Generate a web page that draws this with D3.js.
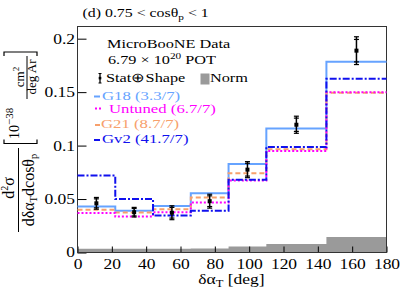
<!DOCTYPE html>
<html><head><meta charset="utf-8">
<script src="https://cdn.jsdelivr.net/npm/d3@7"></script>
<style>
body{margin:0;background:#fff}
svg{display:block}
text{font-family:"Liberation Serif","Times New Roman",serif}
</style>
</head><body>
<svg id="c" width="407" height="295"></svg>
<script>
// ---- data ----
const binEdges = [0, 22, 44, 66, 88, 110, 145, 180];
const dataVals = [0.046, 0.0377, 0.0372, 0.048, 0.0775, 0.1195, 0.1888];
const dataErr = [0.0055, 0.0045, 0.0065, 0.0065, 0.0075, 0.008, 0.013];
const dataStatErr = [0.0042, 0.0035, 0.005, 0.005, 0.006, 0.0062, 0.0105];
const g18Vals = [0.043, 0.039, 0.0436, 0.0555, 0.0829, 0.1159, 0.1785];
const untunedVals = [0.037, 0.0336, 0.0377, 0.0467, 0.0673, 0.095, 0.150];
const g21Vals = [0.040, 0.0374, 0.0405, 0.0514, 0.0742, 0.0965, 0.1495];
const gv2Vals = [0.072, 0.050, 0.0346, 0.039, 0.068, 0.0988, 0.1626];
const normVals = [0.0035, 0.0035, 0.0035, 0.0037, 0.0055, 0.008, 0.0144];
const xTicks = [0, 20, 40, 60, 80, 100, 120, 140, 160, 180];
const yTicks = [0, 0.05, 0.1, 0.15, 0.2];
const yTickLabels = ["0", "0.05", "0.1", "0.15", "0.2"];
const legendLabels = ["G18 (3.3/7)", "Untuned (6.7/7)", "G21 (8.7/7)", "Gv2 (41.7/7)"];
const seriesColors = ["#66a3ff", "#ff00ff", "#f7a06c", "#1010ee"];
const seriesDash = [null, "2,2", "5,3", "7,2,2,2"];

// ---- setup ----
const svg = d3.select("#c");
const SX = 1.25;
const L = 77.5, R = 386.5, T = 26.5, B = 252.5;
const x = d3.scaleLinear().domain([0, 180]).range([L, R]);
const y = d3.scaleLinear().domain([0, 0.2114]).range([B, T]);

function txt(px, py, size, anchor, fill) {
  return svg.append("text")
    .attr("transform", `translate(${px},${py}) scale(${SX},1)`)
    .attr("font-size", size).attr("text-anchor", anchor || "start")
    .attr("fill", fill || "#000");
}
function rtxt(px, py, size, anchor) {
  return svg.append("text")
    .attr("transform", `translate(${px},${py}) rotate(-90)`)
    .attr("font-size", size).attr("text-anchor", anchor || "middle")
    .attr("fill", "#000");
}
function stepPts(vals) {
  const p = vals.map((v, i) => [binEdges[i], v]);
  p.push([binEdges[binEdges.length - 1], vals[vals.length - 1]]);
  return p;
}

// ---- norm band ----
const area = d3.area().curve(d3.curveStepAfter)
  .x(d => x(d[0])).y0(y(0)).y1(d => y(d[1]));
svg.append("path").datum(stepPts(normVals)).attr("d", area).attr("fill", "#9a9a9a");

// ---- axes ----
const xAxis = svg.append("g").attr("transform", `translate(0,${B})`)
  .call(d3.axisBottom(x).tickValues(xTicks).tickSize(-6).tickPadding(7).tickFormat(d3.format("d")));
const yAxis = svg.append("g").attr("transform", `translate(${L},0)`)
  .call(d3.axisLeft(y).tickValues(yTicks).tickSize(-9).tickPadding(2).tickFormat((d, i) => yTickLabels[i]));
[xAxis, yAxis].forEach(a => {
  a.select(".domain").remove();
  a.selectAll("line").attr("stroke", "#000");
  a.selectAll("text").attr("font-size", 14).attr("fill", "#000")
    .attr("font-family", '"Liberation Serif",serif')
    .attr("transform", `scale(${SX},1)`);
});
svg.append("rect").attr("x", L).attr("y", T).attr("width", R - L).attr("height", B - T)
  .attr("fill", "none").attr("stroke", "#333").attr("stroke-width", 1);

// ---- MC histograms ----
const line = d3.line().curve(d3.curveStepAfter).x(d => x(d[0])).y(d => y(d[1]));
const seriesVals = [g18Vals, untunedVals, g21Vals, gv2Vals];
[0, 2, 1, 3].forEach(i => {
  svg.append("path").datum(stepPts(seriesVals[i])).attr("d", line)
    .attr("fill", "none").attr("stroke", seriesColors[i]).attr("stroke-width", 2)
    .attr("stroke-dasharray", seriesDash[i]);
});

// ---- data points ----
const centers = binEdges.slice(0, -1).map((e, i) => (e + binEdges[i + 1]) / 2);
const pts = svg.append("g");
dataVals.forEach((v, i) => {
  const cx = x(centers[i]);
  pts.append("line").attr("x1", cx).attr("x2", cx)
    .attr("y1", y(v - dataErr[i])).attr("y2", y(v + dataErr[i]))
    .attr("stroke", "#000").attr("stroke-width", 1.5);
  [dataErr[i], -dataErr[i], dataStatErr[i], -dataStatErr[i]].forEach(e => {
    pts.append("line").attr("x1", cx - 2.5).attr("x2", cx + 2.5)
      .attr("y1", y(v + e)).attr("y2", y(v + e)).attr("stroke", "#000").attr("stroke-width", 1.2);
  });
  pts.append("rect").attr("x", cx - 2).attr("y", y(v) - 2).attr("width", 4).attr("height", 4).attr("fill", "#000");
});

// ---- title ----
const tt = txt(82.5, 17.3, 12.7);
tt.append("tspan").text("(d) 0.75 < cos\u03B8");
tt.append("tspan").attr("font-size", 9).attr("dy", 3).text("p");
tt.append("tspan").attr("dy", -3).text(" < 1");

// ---- legend ----
txt(107, 48, 13).text("MicroBooNE Data");
const pot = txt(108, 64, 13);
pot.append("tspan").text("6.79 \u00D7 10");
pot.append("tspan").attr("font-size", 9).attr("dy", -5).text("20");
pot.append("tspan").attr("dy", 5).text(" POT");
// stat symbol
svg.append("line").attr("x1", 100).attr("x2", 100).attr("y1", 73.5).attr("y2", 83).attr("stroke", "#000").attr("stroke-width", 1.3);
[73.5, 83].forEach(yy => svg.append("line").attr("x1", 98.5).attr("x2", 101.5).attr("y1", yy).attr("y2", yy).attr("stroke", "#000"));
svg.append("rect").attr("x", 98.7).attr("y", 76.8).attr("width", 2.6).attr("height", 2.6).attr("fill", "#000");
txt(106, 82, 13).text("Stat\u2295Shape");
svg.append("rect").attr("x", 200.5).attr("y", 73.5).attr("width", 9).attr("height", 11).attr("fill", "#9a9a9a");
txt(210, 82, 13).text("Norm");
const legY = [96.5, 108.5, 125, 140];
const legTextX = [102, 109, 101, 102];
const legBase = [99.5, 113, 128, 143];
const legSymX = [[94, 100], [95, 103], [95, 100], [94, 100]];
legendLabels.forEach((lab, i) => {
  svg.append("line").attr("x1", legSymX[i][0]).attr("x2", legSymX[i][1])
    .attr("y1", legY[i]).attr("y2", legY[i])
    .attr("stroke", seriesColors[i]).attr("stroke-width", 2).attr("stroke-dasharray", seriesDash[i]);
  txt(legTextX[i], legBase[i], 13.4, "start", seriesColors[i]).text(lab);
});

// ---- x axis title ----
const xt = txt(231.5, 284, 14, "middle");
xt.append("tspan").text("\u03B4\u03B1");
xt.append("tspan").attr("font-size", 10).attr("dy", 3).text("T");
xt.append("tspan").attr("dy", -3).text(" [deg]");

// ---- y axis title ----
const num = rtxt(14, 188, 16);
num.append("tspan").text("d");
num.append("tspan").attr("font-size", 10).attr("dy", -6).text("2");
num.append("tspan").attr("dy", 6).text("\u03C3");
svg.append("line").attr("x1", 18.5).attr("x2", 18.5).attr("y1", 148).attr("y2", 232).attr("stroke", "#000").attr("stroke-width", 1);
const den = rtxt(33.5, 190, 16);
den.append("tspan").text("d\u03B4\u03B1");
den.append("tspan").attr("font-size", 10.5).attr("dy", 3).text("T");
den.append("tspan").attr("dy", -3).text("dcos\u03B8");
den.append("tspan").attr("font-size", 10.5).attr("dy", 3).text("p");

svg.append("path").attr("d", "M4,139.5V143.5H37V139.5").attr("fill", "none").attr("stroke", "#000").attr("stroke-width", 1.2);
svg.append("path").attr("d", "M4,56V52H37V56").attr("fill", "none").attr("stroke", "#000").attr("stroke-width", 1.2);
const pw = rtxt(19, 139, 14, "start");
pw.append("tspan").text("10");
pw.append("tspan").attr("font-size", 11).attr("dy", -6).text("\u221238");
rtxt(24, 77, 13).append("tspan").text("cm").append("tspan").attr("font-size", 9).attr("dy", -5).text("2");
svg.append("line").attr("x1", 27).attr("x2", 27).attr("y1", 56).attr("y2", 99).attr("stroke", "#000").attr("stroke-width", 1);
rtxt(36, 77, 13).text("deg Ar");
</script>
</body></html>
